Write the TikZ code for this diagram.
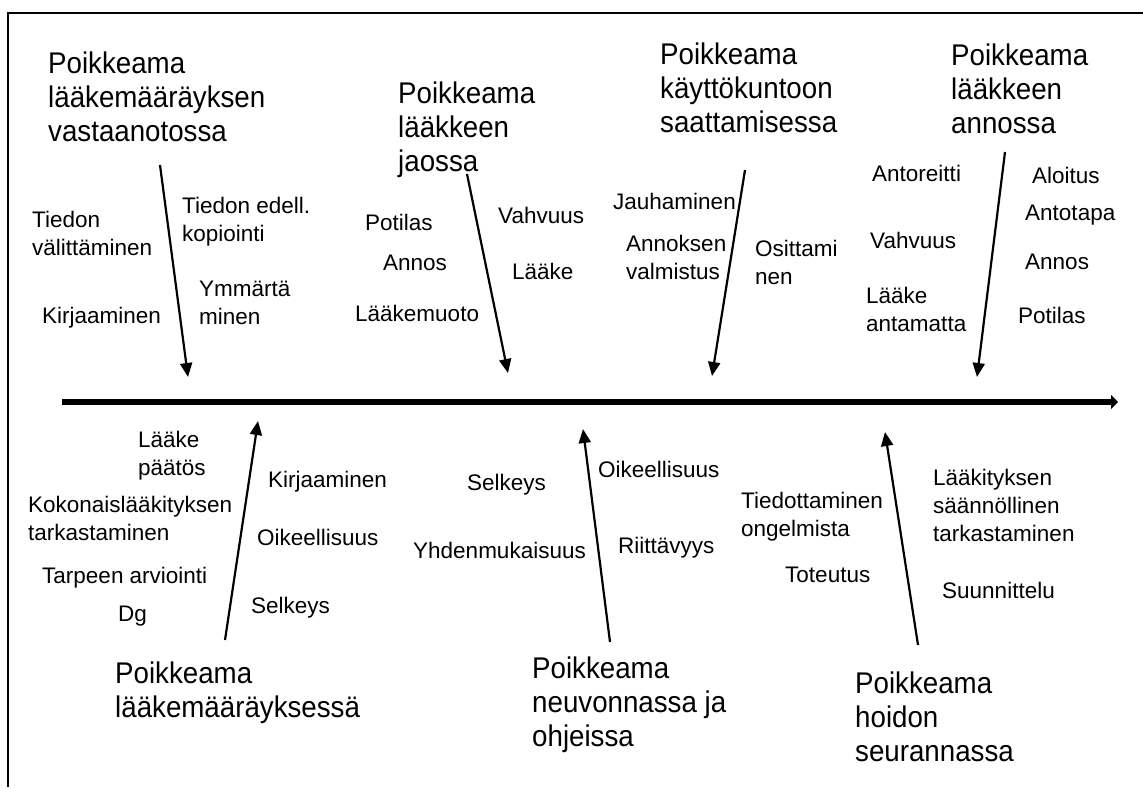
\documentclass[tikz,border=0pt]{standalone}
\usepackage{fontspec}
\setmainfont{Liberation Sans}
\usetikzlibrary{arrows.meta}
\begin{document}
\begin{tikzpicture}[x=1pt,y=-1pt,
  title/.style={font=\fontsize{27.7}{31.5}\selectfont, align=left, inner sep=0pt, anchor=north west, yscale=1.08, transform shape},
  lbl/.style={font=\fontsize{22.5}{28}\selectfont, align=left, inner sep=0pt, anchor=north west},
  bone/.style={line width=2.2pt, -{Triangle[length=14pt,width=12pt]}},
  spine/.style={line width=6.5pt, -{Triangle[length=7pt,width=14pt]}},
  frameline/.style={line width=2pt}]
\useasboundingbox (0,0) rectangle (1143,787);
% frame
\coordinate (fTL) at (8,13);
\coordinate (fTR) at (1143,13);
\coordinate (fBL) at (8,787);
\draw[frameline] (fTR) -- (fTL) -- (fBL);
% spine
\coordinate (s0) at (62,402);
\coordinate (s1) at (1118,402);
\draw[spine] (s0) -- (s1);
% titles
\node[title] (t1) at (48,52) {Poikkeama\\lääkemääräyksen\\vastaanotossa};
\node[title] (t2) at (398,82) {Poikkeama\\lääkkeen\\jaossa};
\node[title] (t3) at (660,43) {Poikkeama\\käyttökuntoon\\saattamisessa};
\node[title] (t4) at (951,44) {Poikkeama\\lääkkeen\\annossa};
\node[title] (t5) at (115,662) {Poikkeama\\lääkemääräyksessä};
\node[title] (t6) at (532,657) {Poikkeama\\neuvonnassa ja\\ohjeissa};
\node[title] (t7) at (855,672) {Poikkeama\\hoidon\\seurannassa};
% arrow 1 labels
\node[lbl] (l1a) at (32,211) {Tiedon\\välittäminen};
\node[lbl] (l1b) at (182,197) {Tiedon edell.\\kopiointi};
\node[lbl] (l1c) at (42,307) {Kirjaaminen};
\node[lbl] (l1d) at (199,281) {Ymmärtä\\minen};
% arrow 2 labels
\node[lbl] (l2a) at (365,214) {Potilas};
\node[lbl] (l2b) at (383,255) {Annos};
\node[lbl] (l2c) at (355,305) {Lääkemuoto};
\node[lbl] (l2d) at (498,207) {Vahvuus};
\node[lbl] (l2e) at (512,263) {Lääke};
% arrow 3 labels
\node[lbl] (l3a) at (613,193) {Jauhaminen};
\node[lbl] (l3b) at (626,235) {Annoksen\\valmistus};
\node[lbl] (l3c) at (755,240) {Osittami\\nen};
% arrow 4 labels
\node[lbl] (l4a) at (872,165) {Antoreitti};
\node[lbl] (l4b) at (1032,167) {Aloitus};
\node[lbl] (l4c) at (1025,205) {Antotapa};
\node[lbl] (l4d) at (870,232) {Vahvuus};
\node[lbl] (l4e) at (1025,254) {Annos};
\node[lbl] (l4f) at (866,287) {Lääke\\antamatta};
\node[lbl] (l4g) at (1018,307) {Potilas};
% arrow 5 labels
\node[lbl] (l5a) at (138,431) {Lääke\\päätös};
\node[lbl] (l5b) at (28,496) {Kokonaislääkityksen\\tarkastaminen};
\node[lbl] (l5c) at (42,567) {Tarpeen arviointi};
\node[lbl] (l5d) at (118,606) {Dg};
\node[lbl] (l5e) at (268,471) {Kirjaaminen};
\node[lbl] (l5f) at (257,529) {Oikeellisuus};
\node[lbl] (l5g) at (251,597) {Selkeys};
% arrow 6 labels
\node[lbl] (l6a) at (467,474) {Selkeys};
\node[lbl] (l6b) at (413,542) {Yhdenmukaisuus};
\node[lbl] (l6c) at (598,461) {Oikeellisuus};
\node[lbl] (l6d) at (618,537) {Riittävyys};
% arrow 7 labels
\node[lbl] (l7a) at (741,492) {Tiedottaminen\\ongelmista};
\node[lbl] (l7b) at (785,567) {Toteutus};
\node[lbl] (l7c) at (933,469) {Lääkityksen\\säännöllinen\\tarkastaminen};
\node[lbl] (l7d) at (942,582) {Suunnittelu};
% bones
\coordinate (a1s) at (160,165); \coordinate (a1e) at (188,377);
\coordinate (a2s) at (467,174); \coordinate (a2e) at (508,373);
\coordinate (a3s) at (745,170); \coordinate (a3e) at (712,376);
\coordinate (a4s) at (1005,152); \coordinate (a4e) at (977,377);
\coordinate (a5s) at (225,640); \coordinate (a5e) at (258,421);
\coordinate (a6s) at (610,642); \coordinate (a6e) at (583,429);
\coordinate (a7s) at (918,645); \coordinate (a7e) at (885,432);
\foreach \i in {1,...,7} {\draw[bone] (a\i s) -- (a\i e);}
\end{tikzpicture}
\end{document}
